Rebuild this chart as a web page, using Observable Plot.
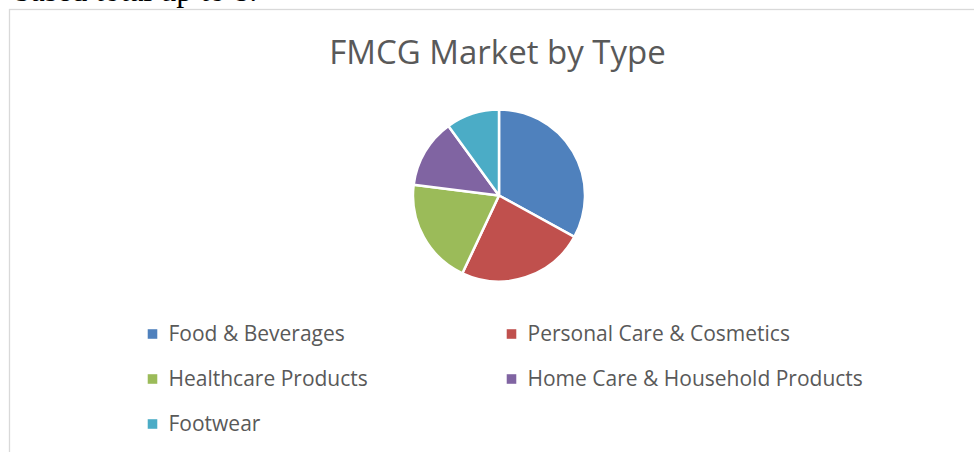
<!DOCTYPE html>
<html>
<head>
<meta charset="utf-8">
<script src="https://cdn.jsdelivr.net/npm/d3@7"></script>
<script src="https://cdn.jsdelivr.net/npm/@observablehq/plot@0.6"></script>
<style>
  html, body { margin: 0; padding: 0; background: #fff; }
  #wrap { position: relative; width: 974px; height: 452px; overflow: hidden; }
  svg { display: block; }
</style>
</head>
<body>
<div id="wrap"></div>
<script>
const titleText = "FMCG Market by Type";
const pageText = "based total up to 8.";
const categories = ["Food & Beverages", "Personal Care & Cosmetics", "Healthcare Products", "Home Care & Household Products", "Footwear"];
const shares = [33, 24, 20, 13, 10];
const colors = ["#4F81BD", "#C0504D", "#9BBB59", "#8064A2", "#4BACC6"];

const data = categories.map((name, i) => ({name, value: shares[i], i}));

const W = 974, H = 452;
const cx = 499, cy = 195.5, R = 86;
const fontFamily = "'Open Sans', sans-serif";
const textColor = "#595959";

// legend layout (computed from index)
const legendCols = [152, 511];
const legendRow0 = 333.5, legendRowStep = 45;
const legend = data.map(d => ({
  ...d,
  lx: legendCols[d.i % 2],
  ly: legendRow0 + Math.floor(d.i / 2) * legendRowStep
}));

function pieMark(index, scales) {
  const arcs = d3.pie().sort(null).value(d => d.value)(data);
  const arc = d3.arc().innerRadius(0).outerRadius(R);
  const g = d3.create("svg:g").attr("transform", `translate(${scales.x(cx)},${scales.y(cy)})`);
  g.selectAll("path").data(arcs).join("path")
    .attr("d", arc)
    .attr("fill", a => scales.color(a.data.name))
    .attr("stroke", "#fff")
    .attr("stroke-width", 2.5)
    .attr("stroke-linejoin", "round");
  return g.node();
}

function frameMark() {
  const g = d3.create("svg:g");
  g.append("rect").attr("x", 9.5).attr("y", 9.5).attr("width", W + 20).attr("height", H + 20)
    .attr("fill", "#fff").attr("stroke", "#d9d9d9").attr("stroke-width", 1.3);
  return g.node();
}

const chart = Plot.plot({
  width: W,
  height: H,
  margin: 0,
  style: {background: "#fff", fontFamily, overflow: "hidden"},
  x: {domain: [0, W], range: [0, W], axis: null},
  y: {domain: [0, H], range: [0, H], axis: null},
  color: {domain: categories, range: colors},
  marks: [
    Plot.text([pageText], {x: 14, y: -10, text: d => d, textAnchor: "start", lineAnchor: "middle",
      fontFamily: "'Liberation Serif', serif", fontSize: 32, fill: "#000"}),
    frameMark,
    Plot.text([titleText], {x: 497, y: 53, text: d => d, fontSize: 33, fill: textColor, lineAnchor: "middle"}),
    pieMark,
    Plot.dot(legend, {x: "lx", y: "ly", fill: "name", symbol: "square", r: 5.4, stroke: null}),
    Plot.text(legend, {x: d => d.lx + 16, y: "ly", text: "name", textAnchor: "start", lineAnchor: "middle",
      fontSize: 21, fill: textColor})
  ]
});
document.getElementById("wrap").appendChild(chart);
</script>
</body>
</html>
